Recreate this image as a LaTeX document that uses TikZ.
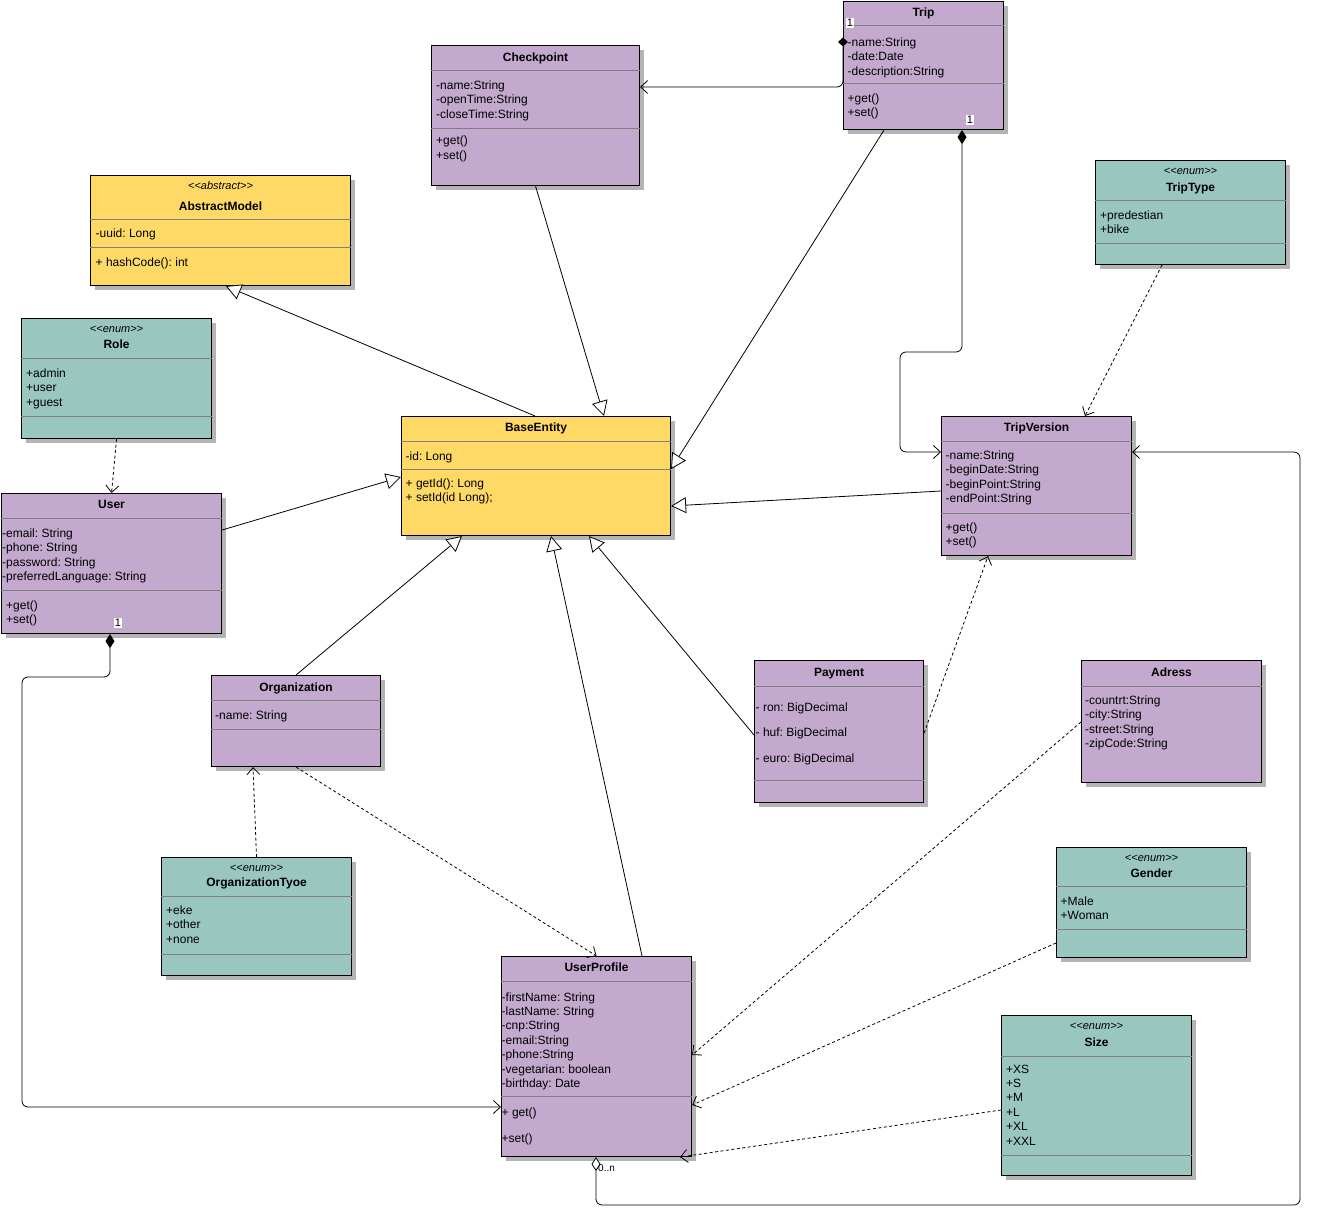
\documentclass[tikz,border=0pt]{standalone}
\usepackage{fontspec}
\setmainfont{Liberation Sans}
\usetikzlibrary{positioning,arrows.meta,shadows}
\definecolor{ClassPurple}{HTML}{C3A9CE}
\definecolor{ClassYellow}{HTML}{FFD966}
\definecolor{EnumTeal}{HTML}{9AC6C0}
\definecolor{RuleGray}{HTML}{808080}
\definecolor{ShadowGray}{HTML}{B4B4B4}
\newcommand{\umlfont}{\fontsize{12}{14.4}\selectfont\frenchspacing}

\begin{document}
\begin{tikzpicture}[x=1pt,y=-1pt,
    every node/.style={font=\umlfont},
    umlbox/.style={draw=black, line width=1.1pt, anchor=north west, inner sep=0pt,
      drop shadow={shadow xshift=4pt, shadow yshift=-4pt, opacity=1, fill=ShadowGray}},
    entitybox/.style={umlbox, fill=ClassPurple},
    abstractbox/.style={umlbox, fill=ClassYellow},
    enumbox/.style={umlbox, fill=EnumTeal},
    ttl/.style={font=\umlfont\bfseries, anchor=base},
    stereo/.style={font=\fontsize{11}{12}\selectfont\itshape, anchor=base},
    mem/.style={anchor=north west, align=left, inner sep=0pt},
    sep/.style={draw=RuleGray, line width=0.8pt},
    mult/.style={font=\fontsize{11}{12}\selectfont, fill=white, inner sep=1pt},
    gen/.style={line width=0.8pt, -{Triangle[fill=white,length=15pt,width=16pt]}},
    dep/.style={line width=0.8pt, dash pattern=on 3pt off 2.5pt,
      -{Straight Barb[length=7pt,width=13pt]}},
    asc/.style={line width=0.8pt, rounded corners=6pt}]
  \useasboundingbox (0,0) rectangle (1318,1225);

  % Checkpoint
  \node[entitybox, minimum width=208, minimum height=140] (checkpoint) at (431,45) {};
  \node[ttl] (checkpoint-t) at (checkpoint.north |- 0,61.3) {Checkpoint};
  \draw[sep] (checkpoint.west |- 0,70.5) -- (checkpoint.east |- 0,70.5);
  \draw[sep] (checkpoint.west |- 0,128) -- (checkpoint.east |- 0,128);
  \node[mem] (checkpoint-a) at (436,80.5) {-name:String\\-openTime:String\\-closeTime:String};
  \node[mem] (checkpoint-m) at (436,136) {+get()\\+set()};

  % Trip
  \node[entitybox, minimum width=160, minimum height=128] (trip) at (843,1) {};
  \node[ttl] (trip-t) at (trip.north |- 0,16.3) {Trip};
  \draw[sep] (trip.west |- 0,25) -- (trip.east |- 0,25);
  \draw[sep] (trip.west |- 0,83) -- (trip.east |- 0,83);
  \node[mem] (trip-a) at (847.5,37.5) {-name:String\\-date:Date\\-description:String};
  \node[mem] (trip-m) at (847.5,93.5) {+get()\\+set()};

  % AbstractModel
  \node[abstractbox, minimum width=260, minimum height=110] (abstract) at (90,175) {};
  \node[stereo] (abstract-s) at (abstract.north |- 0,189.5) {<{}<abstract>{}>};
  \node[ttl] (abstract-t) at (abstract.north |- 0,210.3) {AbstractModel};
  \draw[sep] (abstract.west |- 0,219) -- (abstract.east |- 0,219);
  \draw[sep] (abstract.west |- 0,247) -- (abstract.east |- 0,247);
  \node[mem] (abstract-a) at (95.5,228.5) {-uuid: Long};
  \node[mem] (abstract-m) at (95.5,257.5) {+ hashCode(): int};

  % Role
  \node[enumbox, minimum width=190, minimum height=120] (role) at (21,318) {};
  \node[stereo] (role-s) at (role.north |- 0,332.5) {<{}<enum>{}>};
  \node[ttl] (role-t) at (role.north |- 0,348.3) {Role};
  \draw[sep] (role.west |- 0,358) -- (role.east |- 0,358);
  \draw[sep] (role.west |- 0,416) -- (role.east |- 0,416);
  \node[mem] (role-a) at (26,368.5) {+admin\\+user\\+guest};

  % User
  \node[entitybox, minimum width=220, minimum height=140] (user) at (1,493) {};
  \node[ttl] (user-t) at (user.north |- 0,508.3) {User};
  \draw[sep] (user.west |- 0,518) -- (user.east |- 0,518);
  \draw[sep] (user.west |- 0,590) -- (user.east |- 0,590);
  \node[mem] (user-a) at (2,528.5) {-email: String\\-phone: String\\-password: String\\-preferredLanguage: String};
  \node[mem] (user-m) at (6,600.5) {+get()\\+set()};

  % BaseEntity
  \node[abstractbox, minimum width=269, minimum height=119] (base) at (401,416) {};
  \node[ttl] (base-t) at (base.north |- 0,431.3) {BaseEntity};
  \draw[sep] (base.west |- 0,441) -- (base.east |- 0,441);
  \draw[sep] (base.west |- 0,469) -- (base.east |- 0,469);
  \node[mem] (base-a) at (405.5,451.5) {-id: Long};
  \node[mem] (base-m) at (405.5,478.5) {+ getId(): Long\\+ setId(id Long);};

  % TripVersion
  \node[entitybox, minimum width=190, minimum height=139] (tripversion) at (941,416) {};
  \node[ttl] (tripversion-t) at (tripversion.north |- 0,431.3) {TripVersion};
  \draw[sep] (tripversion.west |- 0,441) -- (tripversion.east |- 0,441);
  \draw[sep] (tripversion.west |- 0,513) -- (tripversion.east |- 0,513);
  \node[mem] (tripversion-a) at (945.5,450.5) {-name:String\\-beginDate:String\\-beginPoint:String\\-endPoint:String};
  \node[mem] (tripversion-m) at (945.5,522.5) {+get()\\+set()};

  % TripType
  \node[enumbox, minimum width=190, minimum height=104] (triptype) at (1095,160) {};
  \node[stereo] (triptype-s) at (triptype.north |- 0,174.5) {<{}<enum>{}>};
  \node[ttl] (triptype-t) at (triptype.north |- 0,191.3) {TripType};
  \draw[sep] (triptype.west |- 0,200) -- (triptype.east |- 0,200);
  \draw[sep] (triptype.west |- 0,243) -- (triptype.east |- 0,243);
  \node[mem] (triptype-a) at (1100,210.5) {+predestian\\+bike};

  % Payment
  \node[entitybox, minimum width=169, minimum height=142] (payment) at (754,660) {};
  \node[ttl] (payment-t) at (payment.north |- 0,676.3) {Payment};
  \draw[sep] (payment.west |- 0,686) -- (payment.east |- 0,686);
  \draw[sep] (payment.west |- 0,780) -- (payment.east |- 0,780);
  \node[mem] (payment-a) at (755.5,702.5) {- ron: BigDecimal\\[11pt]- huf: BigDecimal\\[11pt]- euro: BigDecimal};

  % Adress
  \node[entitybox, minimum width=180, minimum height=122] (adress) at (1081,660) {};
  \node[ttl] (adress-t) at (adress.north |- 0,676.3) {Adress};
  \draw[sep] (adress.west |- 0,686) -- (adress.east |- 0,686);
  \node[mem] (adress-a) at (1085,695.5) {-countrt:String\\-city:String\\-street:String\\-zipCode:String};

  % Organization
  \node[entitybox, minimum width=169, minimum height=91] (organization) at (211,675) {};
  \node[ttl] (organization-t) at (organization.north |- 0,691.3) {Organization};
  \draw[sep] (organization.west |- 0,700.5) -- (organization.east |- 0,700.5);
  \draw[sep] (organization.west |- 0,729) -- (organization.east |- 0,729);
  \node[mem] (organization-a) at (215,711) {-name: String};

  % OrganizationTyoe
  \node[enumbox, minimum width=190, minimum height=118] (orgtype) at (161,857) {};
  \node[stereo] (orgtype-s) at (orgtype.north |- 0,871.2) {<{}<enum>{}>};
  \node[ttl] (orgtype-t) at (orgtype.north |- 0,886.3) {OrganizationTyoe};
  \draw[sep] (orgtype.west |- 0,896.5) -- (orgtype.east |- 0,896.5);
  \draw[sep] (orgtype.west |- 0,954) -- (orgtype.east |- 0,954);
  \node[mem] (orgtype-a) at (166,905.5) {+eke\\+other\\+none};

  % UserProfile
  \node[entitybox, minimum width=190, minimum height=200] (userprofile) at (501,956) {};
  \node[ttl] (userprofile-t) at (userprofile.north |- 0,971.3) {UserProfile};
  \draw[sep] (userprofile.west |- 0,981.5) -- (userprofile.east |- 0,981.5);
  \draw[sep] (userprofile.west |- 0,1096) -- (userprofile.east |- 0,1096);
  \node[mem] (userprofile-a) at (501.5,992.2) {-firstName: String\\-lastName: String\\-cnp:String\\-email:String\\-phone:String\\-vegetarian: boolean\\-birthday: Date};
  \node[mem] (userprofile-m) at (501.5,1107.2) {+ get()\\[12pt]+set()};

  % Gender
  \node[enumbox, minimum width=190, minimum height=110] (gender) at (1056,847) {};
  \node[stereo] (gender-s) at (gender.north |- 0,861.5) {<{}<enum>{}>};
  \node[ttl] (gender-t) at (gender.north |- 0,877) {Gender};
  \draw[sep] (gender.west |- 0,886.5) -- (gender.east |- 0,886.5);
  \draw[sep] (gender.west |- 0,929) -- (gender.east |- 0,929);
  \node[mem] (gender-a) at (1060.5,896.5) {+Male\\+Woman};

  % Size
  \node[enumbox, minimum width=190, minimum height=160] (size) at (1001,1015) {};
  \node[stereo] (size-s) at (size.north |- 0,1029.2) {<{}<enum>{}>};
  \node[ttl] (size-t) at (size.north |- 0,1046) {Size};
  \draw[sep] (size.west |- 0,1056) -- (size.east |- 0,1056);
  \draw[sep] (size.west |- 0,1155) -- (size.east |- 0,1155);
  \node[mem] (size-a) at (1006,1064.5) {+XS\\+S\\+M\\+L\\+XL\\+XXL};

  % inheritance
  \draw[gen] (base.north -| 535,0) -- (abstract.south -| 226,0);
  \draw[gen] (checkpoint.south) -- (base.north -| 604,0);
  \draw[gen] (trip.south -| 884,0) -- (base.east |- 0,469);
  \draw[gen] (tripversion.west |- 0,491) -- (base.east |- 0,506);
  \draw[gen] (user.east |- 0,530) -- (base.west |- 0,477);
  \draw[gen] (organization.north) -- (base.south -| 462,0);
  \draw[gen] (userprofile.north -| 642,0) -- (base.south -| 551,0);
  \draw[gen] (payment.west |- 0,735) -- (base.south -| 589,0);

  % dependencies
  \draw[dep] (role.south) -- (user.north);
  \draw[dep] (triptype.south -| 1162,0) -- (tripversion.north -| 1085,0);
  \draw[dep] (payment.east |- 0,733) -- (tripversion.south -| 988,0);
  \draw[dep] (orgtype.north) -- (organization.south -| 253,0);
  \draw[dep] (organization.south) -- (userprofile.north);
  \draw[dep] (adress.west |- 0,722) -- (userprofile.east |- 0,1055);
  \draw[dep] (gender.west |- 0,943) -- (userprofile.east |- 0,1105);
  \draw[dep] (size.west |- 0,1110) -- (userprofile.south -| 680,0);

  % associations
  \fill (trip.west |- 0,42) +(-5,0) -- +(0,-4.5) -- +(5,0) -- +(0,4.5) -- cycle;
  \draw[asc, -{Straight Barb[length=7pt,width=13pt]}]
    (trip.west |- 0,47) -- (trip.west |- 0,87) -- (checkpoint.east |- 0,87);
  \draw[asc, {Diamond[length=14pt,width=9pt]}-{Straight Barb[length=7pt,width=13pt]}]
    (trip.south -| 962,0) -- (962,352) -- (900,352) -- (900,452) -- (tripversion.west |- 0,452);
  \draw[asc, {Diamond[length=14pt,width=9pt]}-{Straight Barb[length=7pt,width=13pt]}]
    (user.south -| 110,0) -- (110,677) -- (22,677) -- (22,1107) -- (userprofile.west |- 0,1107);
  \draw[asc, {Diamond[fill=white,length=14pt,width=9pt]}-{Straight Barb[length=7pt,width=13pt]}]
    (userprofile.south -| 596,0) -- (596,1205) -- (1300,1205) -- (1300,452) -- (tripversion.east |- 0,452);

  % multiplicities
  \node[mult] (trip-n1) at (850,23) {1};
  \node[mult] (trip-n2) at (970,120) {1};
  \node[mult] (user-n1) at (118,623) {1};
  \node[font=\fontsize{10}{11}\selectfont, anchor=west, inner sep=0pt] (userprofile-n) at (598,1168) {0..n};
\end{tikzpicture}
\end{document}
